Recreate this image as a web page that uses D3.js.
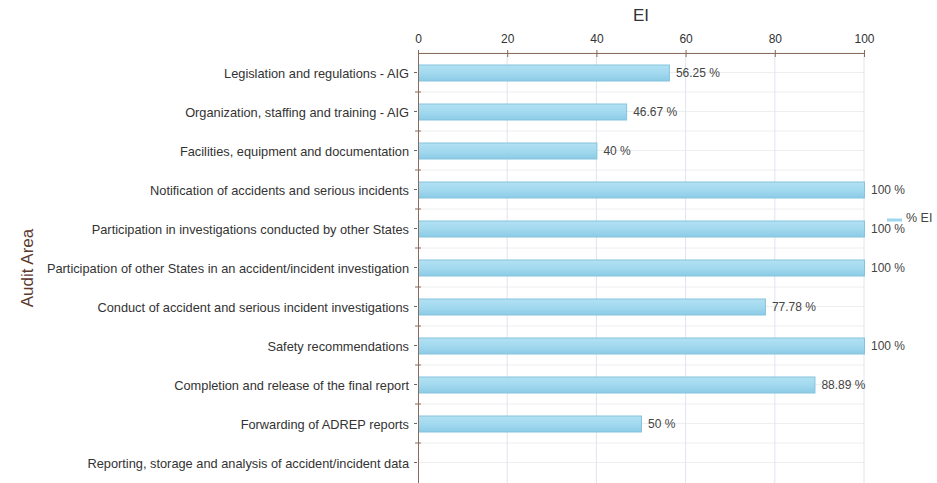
<!DOCTYPE html>
<html>
<head>
<meta charset="utf-8">
<script src="https://cdn.jsdelivr.net/npm/d3@7"></script>
<style>
	body { margin: 0; background: #fff; }
	text { font-family: "Liberation Sans", Arial, sans-serif; }
</style>
</head>
<body>
<div id="chart"></div>
<script>
// Audit areas, top to bottom
const categories = [
	"Legislation and regulations - AIG",
	"Organization, staffing and training - AIG",
	"Facilities, equipment and documentation",
	"Notification of accidents and serious incidents",
	"Participation in investigations conducted by other States",
	"Participation of other States in an accident/incident investigation",
	"Conduct of accident and serious incident investigations",
	"Safety recommendations",
	"Completion and release of the final report",
	"Forwarding of ADREP reports",
	"Reporting, storage and analysis of accident/incident data"
];
// % EI per area (null = no bar)
const values = [56.25, 46.67, 40, 100, 100, 100, 77.78, 100, 88.89, 50, null];
const xTicks = [0, 20, 40, 60, 80, 100];

const WIDTH = 937, HEIGHT = 483;
const margin = {top: 53, right: 73, bottom: 1, left: 418};
const AXIS_COLOR = "#8a6a5a";

const svg = d3.select("#chart").append("svg")
	.attr("width", WIDTH)
	.attr("height", HEIGHT);

const defs = svg.append("defs");
const grad = defs.append("linearGradient")
	.attr("id", "barGrad")
	.attr("x1", 0).attr("y1", 0).attr("x2", 0).attr("y2", 1);
grad.append("stop").attr("offset", "0%").attr("stop-color", "#b3e1f3");
grad.append("stop").attr("offset", "50%").attr("stop-color", "#a2d9ef");
grad.append("stop").attr("offset", "100%").attr("stop-color", "#8ccbe6");

const x = d3.scaleLinear()
	.domain([0, 100])
	.range([margin.left, WIDTH - margin.right]);

const y = d3.scaleBand()
	.domain(categories)
	.range([margin.top, HEIGHT - margin.bottom]);

const bw = y.bandwidth();

// Horizontal grid: band boundaries and band centers
const grid = svg.append("g");
categories.forEach(function(c, i) {
	[y(c), y(c) + bw / 2].forEach(function(gy) {
		grid.append("line")
			.attr("x1", x(0)).attr("x2", x(100))
			.attr("y1", gy).attr("y2", gy)
			.attr("stroke", "#eeeeee")
			.attr("stroke-width", 1);
	});
});

// Vertical grid
xTicks.slice(1).forEach(function(t) {
	grid.append("line")
		.attr("x1", x(t)).attr("x2", x(t))
		.attr("y1", margin.top).attr("y2", HEIGHT)
		.attr("stroke", "#dfe4ee")
		.attr("stroke-width", 1);
});

// Bars
const BAR_H = 16;
categories.forEach(function(c, i) {
	if (values[i] == null) return;
	const cy = y(c) + bw / 2;
	svg.append("rect")
		.attr("x", x(0) + 0.5)
		.attr("y", cy - BAR_H / 2 + 0.5)
		.attr("width", x(values[i]) - x(0))
		.attr("height", BAR_H)
		.attr("fill", "url(#barGrad)")
		.attr("stroke", "#86c3dd")
		.attr("stroke-width", 1);

	svg.append("text")
		.attr("x", x(values[i]) + 7)
		.attr("y", cy + 4.5)
		.attr("font-size", "12px")
		.attr("fill", "#444")
		.text(values[i] + " %");
});

// Top axis
const xAxis = svg.append("g")
	.attr("transform", "translate(0," + margin.top + ")")
	.call(d3.axisTop(x).tickValues(xTicks).tickSize(0).tickPadding(10));
xAxis.select(".domain").attr("stroke", AXIS_COLOR);
xAxis.selectAll("text")
	.attr("font-size", "12px")
	.attr("fill", "#333")
	.style("font-family", "Liberation Sans, Arial, sans-serif");
xTicks.forEach(function(t) {
	xAxis.append("line")
		.attr("x1", x(t) + 0.5).attr("x2", x(t) + 0.5)
		.attr("y1", -3).attr("y2", 4)
		.attr("stroke", AXIS_COLOR);
});

// Left axis
const yAxis = svg.append("g")
	.attr("transform", "translate(" + margin.left + ",0)")
	.call(d3.axisLeft(y).tickSize(4).tickPadding(5));
yAxis.select(".domain").attr("stroke", AXIS_COLOR).attr("d", "M0.5," + margin.top + "V" + HEIGHT);
yAxis.selectAll(".tick line").attr("stroke", "#666").attr("x2", -4).attr("x1", -1);
yAxis.selectAll(".tick text").attr("dy", "0.4em");
yAxis.selectAll("text")
	.attr("font-size", "12.8px")
	.attr("fill", "#333")
	.style("font-family", "Liberation Sans, Arial, sans-serif");
// boundary ticks
categories.slice(1).forEach(function(c) {
	yAxis.append("line")
		.attr("x1", -3).attr("x2", 3)
		.attr("y1", y(c)).attr("y2", y(c))
		.attr("stroke", AXIS_COLOR);
});

// Axis titles
svg.append("text")
	.attr("x", (x(0) + x(100)) / 2)
	.attr("y", 21)
	.attr("text-anchor", "middle")
	.attr("font-size", "17px")
	.attr("fill", "#333")
	.text("EI");

svg.append("text")
	.attr("transform", "translate(33,268) rotate(-90)")
	.attr("text-anchor", "middle")
	.attr("font-size", "17px")
	.attr("fill", "#5a3a30")
	.text("Audit Area");

// Legend
svg.append("line")
	.attr("x1", 887).attr("x2", 902)
	.attr("y1", 220).attr("y2", 220)
	.attr("stroke", "#9ed6ee")
	.attr("stroke-width", 3);
svg.append("text")
	.attr("x", 906)
	.attr("y", 222)
	.attr("font-size", "12.5px")
	.attr("fill", "#444")
	.text("% EI");
</script>
</body>
</html>
